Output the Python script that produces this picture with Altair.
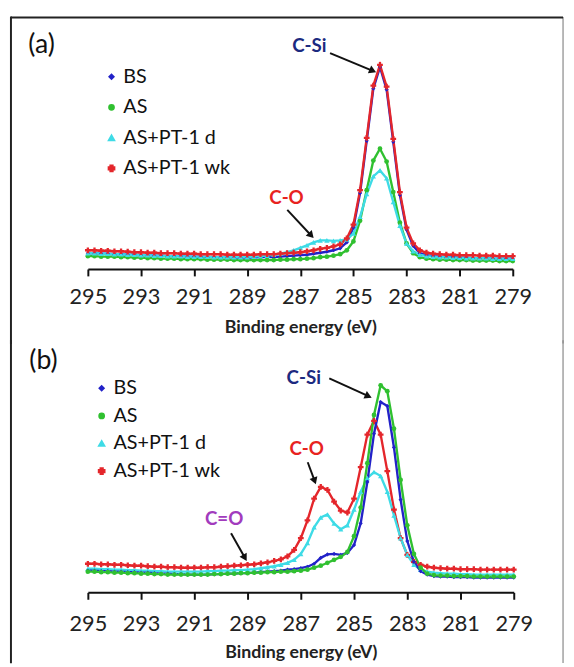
import altair as alt
import pandas as pd

# ---------------- data ----------------
energy = [295.0, 294.75, 294.5, 294.25, 294.0, 293.75, 293.5, 293.25, 293.0,
          292.75, 292.5, 292.25, 292.0, 291.75, 291.5, 291.25, 291.0,
          290.75, 290.5, 290.25, 290.0, 289.75, 289.5, 289.25, 289.0,
          288.75, 288.5, 288.25, 288.0, 287.75, 287.5, 287.25, 287.0,
          286.75, 286.5, 286.25, 286.0, 285.75, 285.5, 285.25, 285.0,
          284.75, 284.5, 284.25, 284.0, 283.75, 283.5, 283.25, 283.0,
          282.75, 282.5, 282.25, 282.0, 281.75, 281.5, 281.25, 281.0,
          280.75, 280.5, 280.25, 280.0, 279.75, 279.5, 279.25, 279.0]

series_names = ["BS", "AS", "AS+PT-1 d", "AS+PT-1 wk"]
series_colors = ["#2222c8", "#30c030", "#3edbe6", "#e4262b"]
series_shapes = ["diamond", "circle", "triangle-up", "cross"]
series_sizes = [18, 34, 20, 10]

tick_values = [295, 293, 291, 289, 287, 285, 283, 281, 279]

# panel (a)
a_bs = [16, 16, 15.5, 15.5, 15, 15, 14.5, 14.5, 14, 14, 13.5, 13.5, 13,
        13, 13, 12.5, 12.5, 12.5, 12, 12, 12, 12, 11.5, 11.5, 11.5,
        11.5, 12, 12, 12, 12.5, 13, 13.5, 14, 14.5, 15.5, 16.5, 17.5,
        19, 21, 27, 42, 77, 130, 183, 205, 182, 129, 75, 40,
        23.5, 16, 14, 13, 12.5, 12, 12, 11.5, 11.5, 11, 11, 11,
        10.5, 10.5, 10.5, 10.5]
a_as = [13, 13, 12.5, 12.5, 12.5, 12, 12, 11.5, 11.5, 11, 11, 10.5, 10.5,
        10.5, 10, 10, 10, 10, 9.5, 9.5, 9.5, 9.5, 9, 9, 9,
        9, 9, 9, 9, 9.5, 9.5, 10, 10, 10.5, 11, 12, 12.5,
        13.5, 15, 19, 28, 49, 80, 110, 122, 109, 78, 47, 26,
        16, 12, 10.5, 10, 9.5, 9.5, 9, 9, 9, 8.5, 8.5, 8.5,
        8.5, 8, 8, 8]
a_d = [16, 16, 15.5, 15.5, 15, 15, 14.5, 14.5, 14, 14, 13.5, 13.5, 13,
       13, 13, 12.5, 12.5, 12.5, 12.5, 12, 12, 12, 12, 12, 12,
       12.5, 13, 13.5, 14.5, 15.5, 17, 19, 21.5, 24, 27, 29, 29,
       28.5, 29, 30, 36, 53, 76, 94, 100, 92, 68, 44, 26,
       18, 14.5, 13, 12.5, 12, 12, 11.5, 11.5, 11, 11, 11, 11,
       10.5, 10.5, 10.5, 10.5]
a_wk = [19, 19, 18.5, 18.5, 18, 18, 17.5, 17, 17, 16.5, 16.5, 16, 16,
        16, 15.5, 15.5, 15.5, 15, 15, 15, 15, 14.5, 14.5, 14.5, 14.5,
        14.5, 15, 15, 15, 15.5, 16, 16.5, 17, 18, 19, 20.5, 21.5,
        23, 25, 31, 45, 80, 133, 186, 207, 185, 132, 78, 42,
        26, 19, 16.5, 15.5, 15, 14.5, 14.5, 14, 14, 14, 13.5, 13.5,
        13.5, 13, 13, 13]

# panel (b)
b_bs = [22, 22, 21.5, 21.5, 21, 21, 20.5, 20.5, 20, 20, 19.5, 19, 19,
        18.5, 18.5, 18, 18, 18, 18, 18.5, 18.5, 19, 19, 19.5, 19.5,
        20, 20.5, 21, 21.5, 22, 23, 23.5, 24.5, 26, 29, 35, 38.5,
        39, 38, 40, 48, 70, 112, 161, 193, 189, 147, 94, 52,
        31, 21.5, 18, 16.5, 16, 16, 15.5, 15.5, 15.5, 15, 15, 15,
        15, 15, 15, 15]
b_as = [21, 21, 20.5, 20.5, 20, 20, 19.5, 19.5, 19, 19, 18.5, 18.5, 18,
        18, 18, 18, 18, 18, 18, 18.5, 18.5, 19, 19, 19.5, 19.5,
        20, 20, 20.5, 20.5, 21, 21, 21.5, 22, 23, 25, 27, 30,
        33, 36, 41, 57, 86, 131, 180, 210, 204, 166, 114, 68,
        39, 25, 19, 17.5, 17, 17, 16.5, 16.5, 16.5, 16, 16, 16,
        16, 16, 16, 16]
b_d = [24, 24, 23.5, 23.5, 23, 23, 22.5, 22.5, 22, 22, 21.5, 21.5, 21,
       21, 21, 21, 21, 21, 21.5, 21.5, 22, 22, 22.5, 22.5, 23,
       23.5, 24.5, 25.5, 26.5, 28, 30, 33, 39, 50, 66, 76, 79,
       70, 64, 68, 84, 102, 116, 122, 118, 102, 78, 55, 38,
       28, 23, 21, 20, 19.5, 19, 19, 18.5, 18.5, 18, 18, 18,
       18, 18, 18, 18]
b_wk = [29, 29, 28.5, 28.5, 28, 28, 27.5, 27, 27, 26.5, 26, 26, 25.5,
        25.5, 25, 25, 25, 25, 25.5, 25.5, 26, 26.5, 27, 27.5, 28,
        28.5, 29.5, 30.5, 32, 33.5, 36.5, 43, 55, 73, 95, 107, 104,
        92, 83, 81, 95, 127, 160, 174, 160, 123, 84, 55, 38,
        31, 28, 26, 25, 24.5, 24, 24, 23.5, 23.5, 23.5, 23, 23,
        23, 23, 23, 23]

for arr in (a_bs, a_as, a_d, a_wk, b_bs, b_as, b_d, b_wk):
    assert len(arr) == len(energy), len(arr)

# annotation labels and arrows (data coordinates)
a_labels = pd.DataFrame({"text": ["C-Si", "C-O"], "E": [286.66, 287.52],
                         "I": [226, 72], "col": ["#1c2a80", "#e8231f"]})
a_arrows = pd.DataFrame({"E": [285.88, 287.49], "I": [219, 60],
                         "E2": [284.27, 286.59], "I2": [201, 34],
                         "ang": [114, 137]})
b_labels = pd.DataFrame({"text": ["C-Si", "C-O", "C=O"],
                         "E": [286.89, 286.78, 289.88], "I": [217, 145, 74],
                         "col": ["#1c2a80", "#e8231f", "#a23bbd"]})
b_arrows = pd.DataFrame({"E": [285.93, 286.74, 289.62], "I": [217, 132, 60],
                         "E2": [284.46, 286.48, 289.10], "I2": [199, 113, 35],
                         "ang": [114, 160, 150]})

FONT = "Lato"


def long_df(vals, order):
    rows = []
    for k in order:
        for e, v in zip(energy, vals[k]):
            rows.append({"E": e, "I": v, "series": series_names[k]})
    return pd.DataFrame(rows)


def panel(vals, order, labels, arrows, tag, w, h, legend_xy, row_pad,
          frame, label_pad, title_pad):
    df = long_df(vals, order)
    xs = alt.Scale(domain=[295, 279], nice=False)
    ys = alt.Scale(domain=[0, 240], nice=False, zero=False)
    xenc = alt.X("E:Q", scale=xs, axis=alt.Axis(
        values=tick_values, title="Binding energy (eV)", grid=False,
        labelFont=FONT, labelFontSize=22, labelColor="#222",
        titleFont=FONT, titleFontSize=18, titleFontWeight="bold",
        titleColor="#222", domainColor="#111", domainWidth=2,
        tickColor="#111", tickWidth=2, tickSize=7, labelPadding=label_pad,
        titlePadding=title_pad, labelFlush=False, format="d"))
    yenc = alt.Y("I:Q", scale=ys, axis=None)
    cscale = alt.Scale(domain=series_names, range=series_colors)

    lines = alt.Chart(df).mark_line(strokeWidth=2.4).encode(
        x=xenc, y=yenc,
        color=alt.Color("series:N", scale=cscale, legend=alt.Legend(
            title=None, orient="none", legendX=legend_xy[0],
            legendY=legend_xy[1], symbolType="stroke",
            symbolStrokeWidth=2, symbolSize=130, labelFont=FONT,
            labelFontSize=20, labelColor="#111", rowPadding=row_pad,
            labelOffset=2, padding=0)),
        order=alt.Order("E:Q"))
    pts = alt.Chart(df).mark_point(filled=True, opacity=1).encode(
        x="E:Q", y="I:Q",
        color=alt.Color("series:N", scale=cscale, legend=None),
        shape=alt.Shape("series:N", scale=alt.Scale(
            domain=series_names, range=series_shapes), legend=None),
        size=alt.Size("series:N", scale=alt.Scale(
            domain=series_names, range=series_sizes), legend=None))

    txt = alt.Chart(labels).mark_text(font=FONT, fontSize=19,
                                      fontWeight="bold", baseline="middle",
                                      align="center").encode(
        x="E:Q", y="I:Q", text="text:N",
        color=alt.Color("col:N", scale=None))
    arr = alt.Chart(arrows).mark_rule(color="#111", strokeWidth=2).encode(
        x="E:Q", y="I:Q", x2="E2:Q", y2="I2:Q")
    heads = alt.Chart(arrows).mark_point(
        shape="triangle-up", filled=True, color="#111", size=70,
        opacity=1).encode(x="E2:Q", y="I2:Q", angle=alt.Angle("ang:Q", scale=None))

    one = pd.DataFrame({"k": [0]})
    tag_txt = alt.Chart(one).mark_text(
        text=tag[0], font=FONT, fontSize=27, color="#111", align="center",
        baseline="middle").encode(x=alt.value(tag[1]), y=alt.value(tag[2]))

    fl, fr, ft, fb, top_edge = frame
    fr_layers = [
        alt.Chart(one).mark_rule(color="#222", strokeWidth=2,
                                 strokeCap="square").encode(
            x=alt.value(fl), y=alt.value(ft), y2=alt.value(fb)),
        alt.Chart(one).mark_rule(color="#888", strokeWidth=1.2,
                                 strokeCap="square").encode(
            x=alt.value(fr), y=alt.value(ft), y2=alt.value(fb)),
    ]
    if top_edge:
        fr_layers.append(alt.Chart(one).mark_rule(color="#222", strokeWidth=2).encode(
            x=alt.value(fl), x2=alt.value(fr), y=alt.value(ft)))

    return alt.layer(lines, pts, arr, heads, txt, tag_txt, *fr_layers).properties(
        width=w, height=h)


vals_a = [a_bs, a_as, a_d, a_wk]
vals_b = [b_bs, b_as, b_d, b_wk]

pa = panel(vals_a, [0, 1, 2, 3], a_labels, a_arrows, ("(a)", -47, 13),
           431, 240, (14, 35), 11, (-78, 482, -15, 315, True), 11, 11)
pb = panel(vals_b, [3, 2, 0, 1], b_labels, b_arrows, ("(b)", -45, 5),
           432, 240, (4, 23), 8, (-78, 482, -15, 311, False), 15, 9)

chart = alt.vconcat(pa, pb, spacing=88, bounds="flush").resolve_scale(
    color="independent", shape="independent", size="independent"
).resolve_legend(color="independent").properties(
    padding={"left": 1, "top": 3, "right": 2, "bottom": 0},
    background="white"
).configure_view(stroke=None)

chart.save("out.html", embed_options={"renderer": "svg", "actions": False})
